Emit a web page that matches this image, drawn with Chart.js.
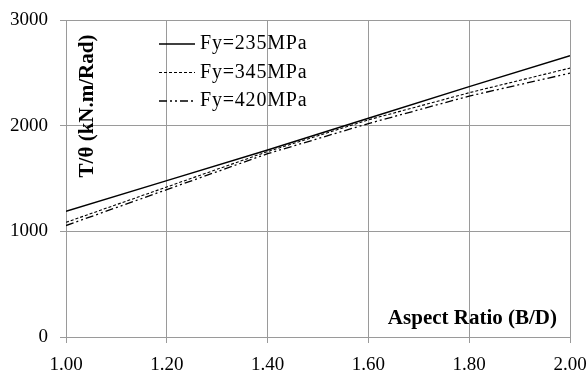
<!DOCTYPE html>
<html>
<head>
<meta charset="utf-8">
<script src="https://cdn.jsdelivr.net/npm/chart.js@4/dist/chart.umd.min.js"></script>
<style>
  html, body { margin: 0; padding: 0; background: #fff; }
  canvas { display: block; }
</style>
</head>
<body>
<canvas id="chart" width="588" height="372"></canvas>
<script>
const aspectRatio = [1.0, 1.2, 1.4, 1.6, 1.8, 2.0];
const fy235 = [1190, 1480, 1770, 2070, 2370, 2662];
const fy345 = [1085, 1420, 1755, 2055, 2312, 2545];
const fy420 = [1055, 1395, 1735, 2020, 2280, 2497];
const seriesNames = ["Fy=235MPa", "Fy=345MPa", "Fy=420MPa"];
const yTicks = [0, 1000, 2000, 3000];
const xTitle = "Aspect Ratio (B/D)";
const yTitle = "T/θ (kN.m/Rad)";

const serif = "'Liberation Serif', 'DejaVu Serif', serif";
const gridCol = "#9a9a9a";

function pts(ys) {
  return aspectRatio.map((x, i) => ({ x: x, y: ys[i] }));
}

// legend + axis titles drawn inside the plot area
const insideText = {
  id: "insideText",
  afterDraw(c) {
    const ctx = c.ctx;
    const a = c.chartArea;
    ctx.save();
    // legend
    c.data.datasets.forEach((ds, i) => {
      const y = a.top + 24 + i * 28.5;
      ctx.beginPath();
      ctx.strokeStyle = "#000";
      ctx.lineWidth = ds.borderWidth;
      ctx.setLineDash(ds.borderDash || []);
      ctx.moveTo(a.left + 93, y);
      ctx.lineTo(a.left + 129, y);
      ctx.stroke();
      ctx.setLineDash([]);
      ctx.fillStyle = "#000";
      ctx.font = "20px " + serif;
      ctx.letterSpacing = "0.8px";
      ctx.textBaseline = "middle";
      ctx.textAlign = "left";
      ctx.fillText(ds.label, a.left + 134, y);
    });
    ctx.letterSpacing = "0px";
    // x title
    ctx.font = "bold 21px " + serif;
    ctx.textAlign = "right";
    ctx.textBaseline = "alphabetic";
    ctx.fillText(xTitle, a.right - 13, a.bottom - 13);
    // y title
    ctx.translate(a.left + 27, a.top + 86);
    ctx.rotate(-Math.PI / 2);
    ctx.textAlign = "center";
    ctx.fillText(yTitle, 0, 0);
    ctx.restore();
  }
};

new Chart(document.getElementById("chart"), {
  type: "line",
  data: {
    datasets: [
      { label: seriesNames[0], data: pts(fy235), borderColor: "#000", borderWidth: 1.4, borderDash: [] },
      { label: seriesNames[1], data: pts(fy345), borderColor: "#000", borderWidth: 1.1, borderDash: [3, 2] },
      { label: seriesNames[2], data: pts(fy420), borderColor: "#000", borderWidth: 1.3, borderDash: [8, 3, 2, 3, 2, 3] }
    ]
  },
  options: {
    responsive: false,
    devicePixelRatio: 1,
    animation: false,
    layout: { padding: { top: 20, right: 18, left: 0, bottom: 0 } },
    elements: { point: { radius: 0 }, line: { tension: 0, fill: false } },
    plugins: { legend: { display: false }, tooltip: { enabled: false } },
    scales: {
      x: {
        type: "linear",
        min: 1,
        max: 2,
        afterBuildTicks: (ax) => { ax.ticks = aspectRatio.map((v) => ({ value: v })); },
        afterFit: (ax) => { ax.height = 35; ax.paddingLeft = 0; ax.paddingRight = 0; },
        ticks: {
          color: "#000",
          font: { family: serif, size: 19 },
          padding: 11,
          maxRotation: 0,
          callback: (v) => Number(v).toFixed(2)
        },
        grid: { color: gridCol, lineWidth: 1, tickLength: 6, drawTicks: true },
        border: { color: gridCol, width: 1 }
      },
      y: {
        min: 0,
        max: 3000,
        afterBuildTicks: (ax) => { ax.ticks = yTicks.map((v) => ({ value: v })); },
        afterFit: (ax) => { ax.width = 66; ax.paddingTop = 0; ax.paddingBottom = 0; },
        ticks: {
          color: "#000",
          font: { family: serif, size: 19 },
          padding: 12,
          callback: (v) => String(v)
        },
        grid: { color: gridCol, lineWidth: 1, tickLength: 6, drawTicks: true },
        border: { color: gridCol, width: 1 }
      }
    }
  },
  plugins: [insideText]
});
</script>
</body>
</html>
